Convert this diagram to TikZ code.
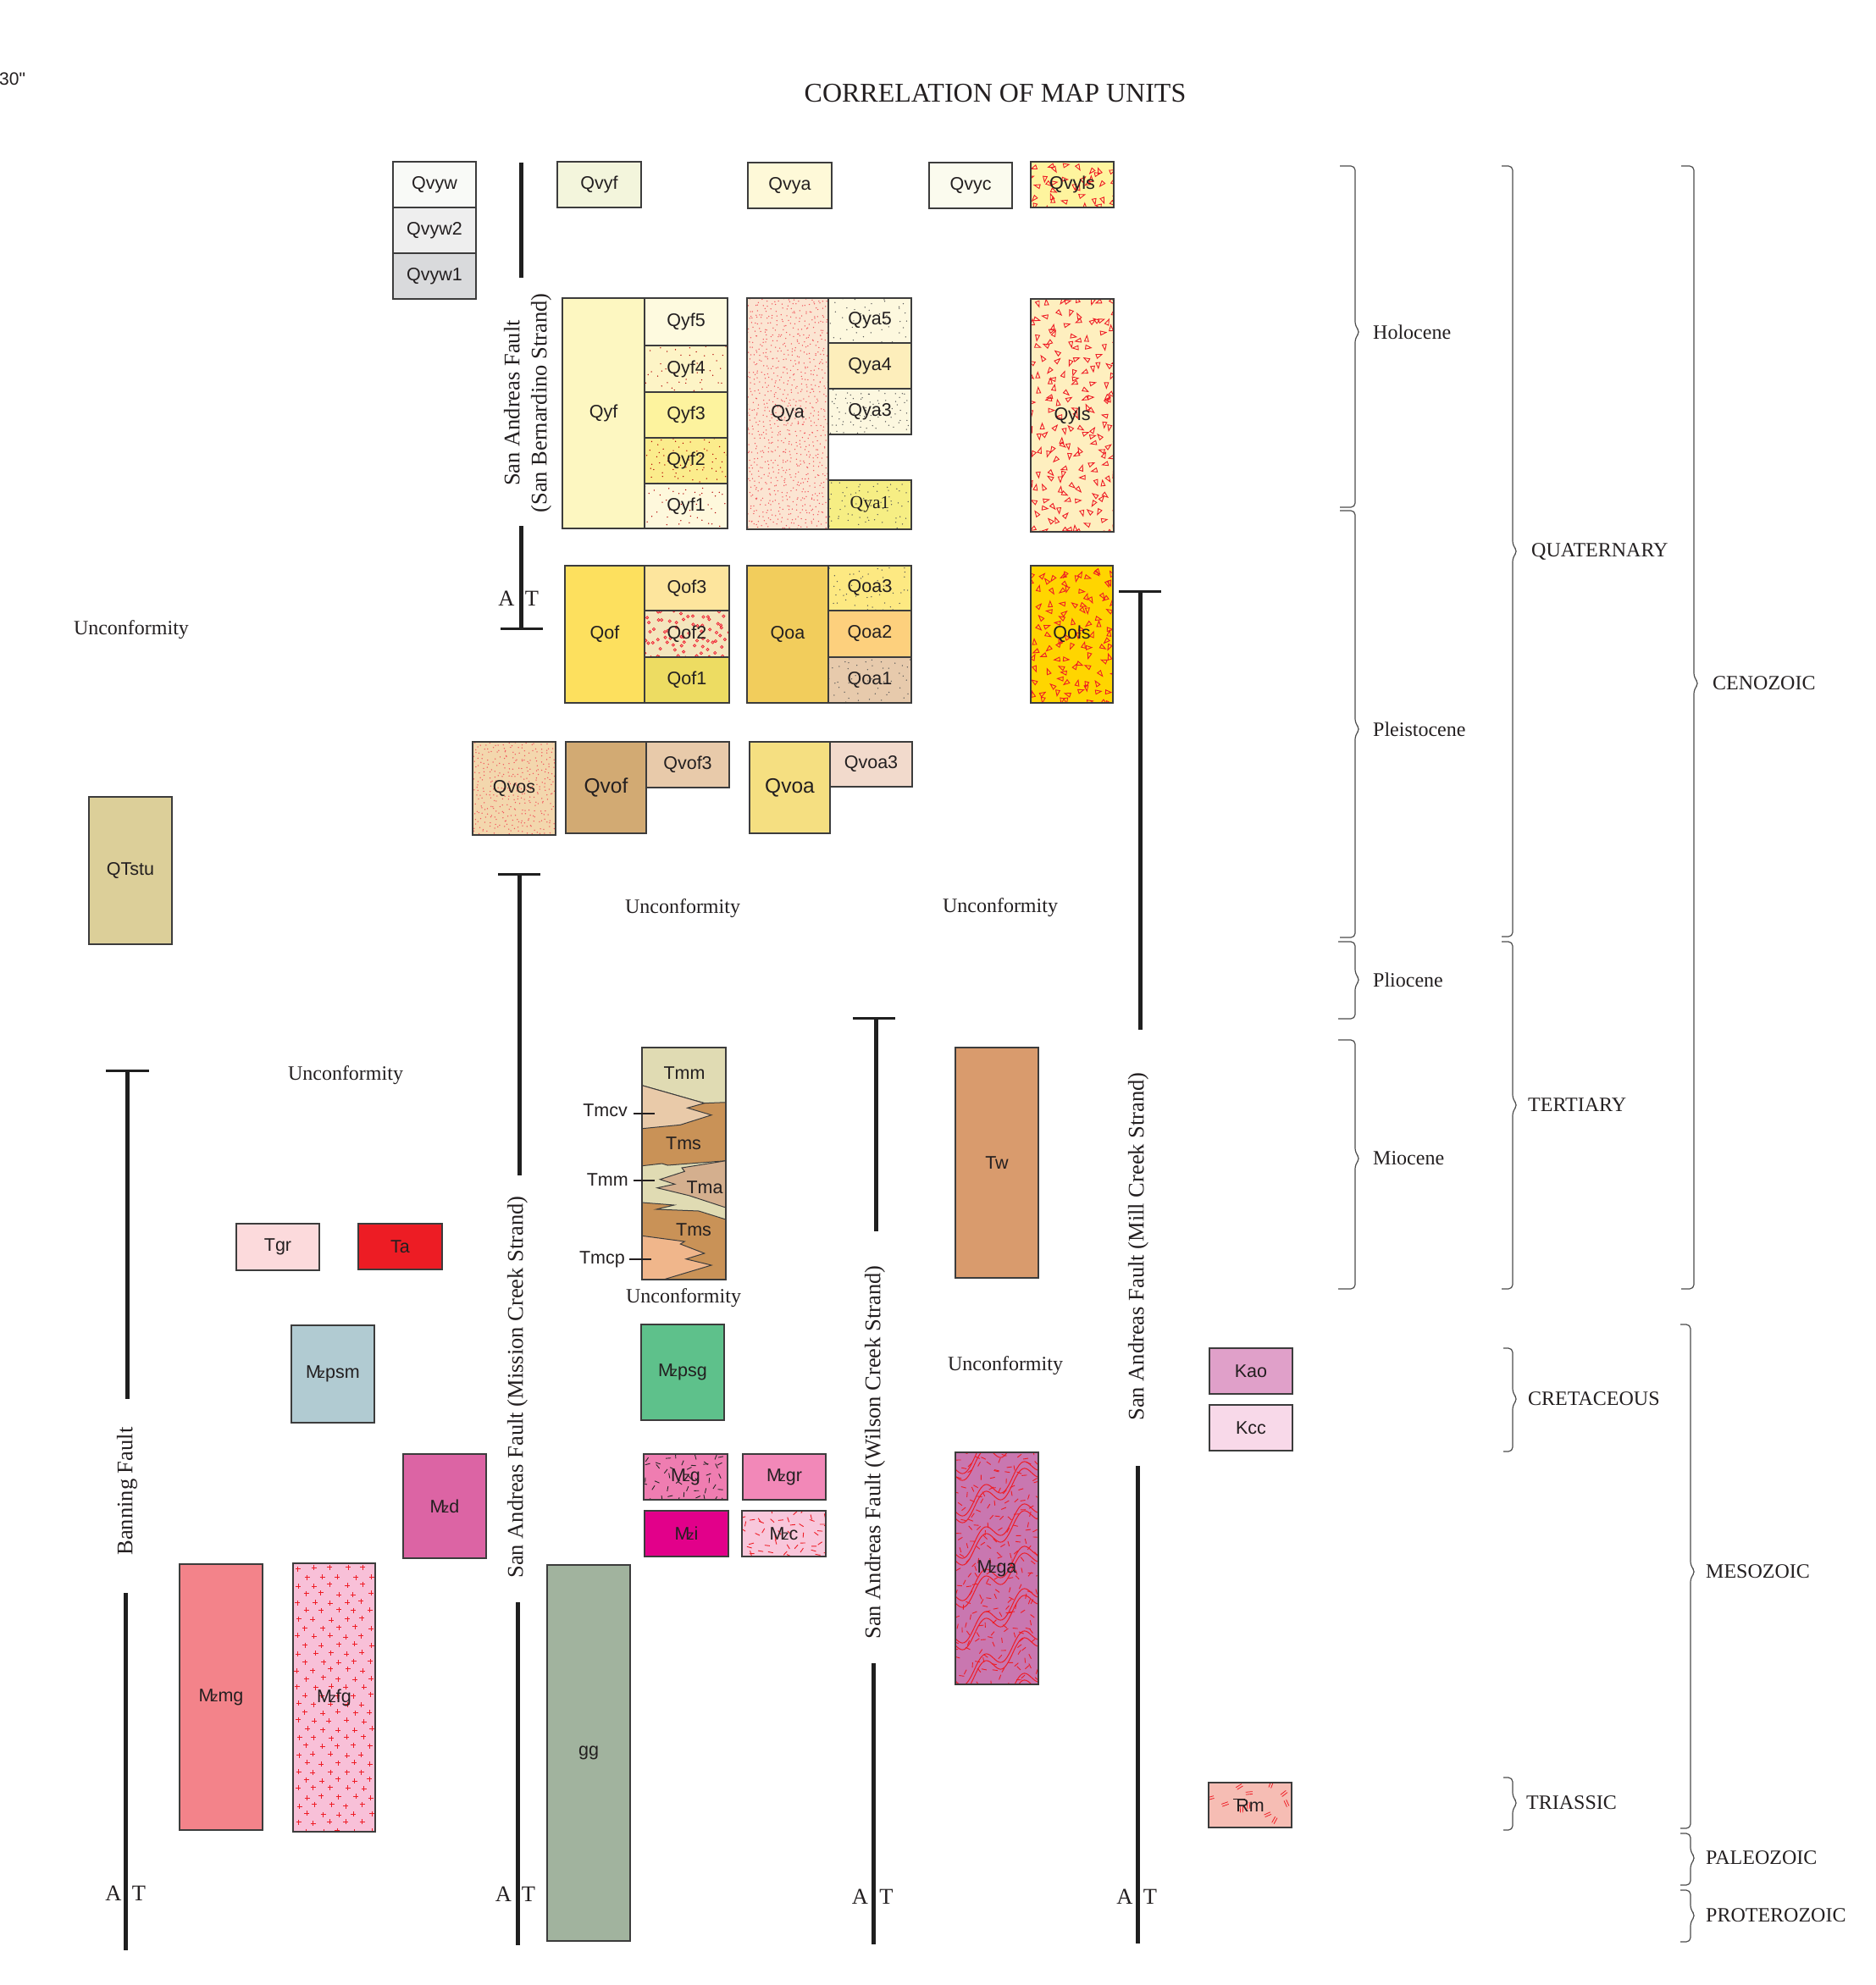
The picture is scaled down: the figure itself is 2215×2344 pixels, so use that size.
\documentclass[tikz,border=0pt]{standalone}
\usepackage{fontspec}
\setmainfont{Liberation Serif}
\newfontfamily\boxfont{Liberation Sans}
\definecolor{txt}{HTML}{231F20}
\definecolor{bline}{HTML}{3C3C3C}
\definecolor{cRed}{HTML}{EE1C25}
\definecolor{cQvyw}{HTML}{F9FAF7}
\definecolor{cQvywb}{HTML}{EEEEEE}
\definecolor{cQvywa}{HTML}{D9DADC}
\definecolor{cQvyf}{HTML}{F3F5DC}
\definecolor{cQvya}{HTML}{FEF9D8}
\definecolor{cQvyc}{HTML}{FBFBEE}
\definecolor{cQvyls}{HTML}{FEF49E}
\definecolor{cQyf}{HTML}{FDF7C1}
\definecolor{cQyf5}{HTML}{FEFADF}
\definecolor{cQyf4}{HTML}{FDF4C6}
\definecolor{cQyf3}{HTML}{FDF39E}
\definecolor{cQyf2}{HTML}{FBEC8C}
\definecolor{cQyf1}{HTML}{FEF8DC}
\definecolor{cQya}{HTML}{FBE5D2}
\definecolor{cQya5}{HTML}{FDF8DE}
\definecolor{cQya4}{HTML}{FDEEBB}
\definecolor{cQya3}{HTML}{FCF7DF}
\definecolor{cQya1}{HTML}{F6EE84}
\definecolor{cQyls}{HTML}{FEEFBF}
\definecolor{cQof}{HTML}{FDE05E}
\definecolor{cQof3}{HTML}{FDE59D}
\definecolor{cQof2}{HTML}{F4E5BD}
\definecolor{cQof1}{HTML}{EDDC62}
\definecolor{cQoa}{HTML}{F2CD5C}
\definecolor{cQoa3}{HTML}{FDE982}
\definecolor{cQoa2}{HTML}{FDD07D}
\definecolor{cQoa1}{HTML}{E7CAAC}
\definecolor{cQols}{HTML}{FFD500}
\definecolor{cQvos}{HTML}{F3D7AD}
\definecolor{cQvof}{HTML}{D2AA73}
\definecolor{cQvof3}{HTML}{E8CAAA}
\definecolor{cQvoa}{HTML}{F5DF81}
\definecolor{cQvoa3}{HTML}{F2DACC}
\definecolor{cQTstu}{HTML}{DCCF99}
\definecolor{cTmm}{HTML}{E0DBB3}
\definecolor{cTmcv}{HTML}{E9CAA9}
\definecolor{cTms}{HTML}{C99257}
\definecolor{cTma}{HTML}{D4AF8E}
\definecolor{cTmcp}{HTML}{F0B68B}
\definecolor{cTw}{HTML}{D99B6D}
\definecolor{cTgr}{HTML}{FCDADC}
\definecolor{cTa}{HTML}{ED1C24}
\definecolor{cMzpsm}{HTML}{B1CBD2}
\definecolor{cMzpsg}{HTML}{5EC18B}
\definecolor{cMzd}{HTML}{DC64A4}
\definecolor{cMzg}{HTML}{EF7DB1}
\definecolor{cMzgr}{HTML}{F288B8}
\definecolor{cMzi}{HTML}{E2008A}
\definecolor{cMzc}{HTML}{F8C7DB}
\definecolor{cMzmg}{HTML}{F3838A}
\definecolor{cMzfg}{HTML}{F8C0D8}
\definecolor{cgg}{HTML}{A1B39E}
\definecolor{cMzga}{HTML}{C977B0}
\definecolor{cKao}{HTML}{E0A0C9}
\definecolor{cKcc}{HTML}{F8D9E9}
\definecolor{cTrm}{HTML}{F6BDB4}

\newcommand\Mz{M\kern-0.14em{\fontsize{16}{16}\selectfont z}}
\newcommand\TRm{\makebox[0pt][l]{\kern-0.14em\rule[0.64em]{0.62em}{0.075em}}Rm}

\tikzset{
  ubox/.style={draw=bline, line width=1.3pt, inner sep=0pt, outer sep=0pt, text=txt,
    font=\boxfont\fontsize{21.5}{24}\selectfont},
  ulabel/.style={inner sep=0pt, text=txt, font=\boxfont\fontsize{21.5}{24}\selectfont},
  bl/.style={draw=bline, line width=1.3pt},
  tmline/.style={draw=bline, line width=1pt},
  tri/.style={draw=cRed, line width=0.9pt},
  dotr/.style={fill=red!70!black},
  dotp/.style={fill=cRed!75},
  dotg/.style={fill=black!65},
  plusl/.style={draw=cRed, line width=0.9pt},
  dashk/.style={draw=black!85, line width=0.9pt},
  dashr/.style={draw=cRed, line width=0.9pt},
  ddl/.style={draw=cRed, line width=0.8pt},
  wavel/.style={draw=cRed, line width=1pt},
  fault/.style={draw=black!88, line width=5pt},
  tbar/.style={draw=black!88, line width=3pt},
  ser/.style={inner sep=0pt, text=txt, font=\fontsize{24}{28}\selectfont},
  atl/.style={inner sep=0pt, text=txt, font=\fontsize{26.5}{30}\selectfont},
  faultlab/.style={rotate=90, inner sep=0pt, text=txt, align=center,
    font=\fontsize{26.5}{32}\selectfont},
  gbrace/.style={draw=black!70, line width=1.2pt, rounded corners=5pt},
  leader/.style={draw=txt, line width=1.2pt}
}

% random jittered grid: x1 y1 x2 y2 spacing code
\newcommand\jitgrid[6]{%
  \pgfmathtruncatemacro\jgnx{((#3)-(#1))/(#5)}%
  \pgfmathtruncatemacro\jgny{((#4)-(#2))/(#5)}%
  \foreach \ji in {0,...,\jgnx}{\foreach \jj in {0,...,\jgny}{%
    \pgfmathsetmacro\px{(#1)+(\ji+rnd)*(#5)}%
    \pgfmathsetmacro\py{(#2)+(\jj+rnd)*(#5)}%
    \pgfmathsetmacro\pa{360*rnd}%
    #6}}}
\newcommand\tripat[4]{\jitgrid{#1}{#2}{#3}{#4}{13}{\draw[tri,shift={(\px,\py)},rotate=\pa] (0,-3.6) -- (-2.4,3) -- (2.4,3) -- cycle;}}
\newcommand\dotpat[6]{\jitgrid{#1}{#2}{#3}{#4}{#5}{\fill[#6] (\px,\py) circle (0.75);}}
\newcommand\circpat[4]{\jitgrid{#1}{#2}{#3}{#4}{9}{\filldraw[draw=cRed,fill=cRed!45,line width=0.6pt] (\px,\py) circle (1.7);}}
% staggered plus signs: x1 y1 x2 y2
\newcommand\pluspat[4]{%
  \pgfmathtruncatemacro\jgnx{((#3)-(#1))/19}%
  \pgfmathtruncatemacro\jgny{((#4)-(#2))/10}%
  \foreach \ji in {0,...,\jgnx}{\foreach \jj in {0,...,\jgny}{%
    \pgfmathsetmacro\px{(#1)+6+\ji*19+mod(\jj,2)*9.5+4*(rnd-0.5)}%
    \pgfmathsetmacro\py{(#2)+6+\jj*10+3*(rnd-0.5)}%
    \draw[plusl] (\px-3,\py) -- (\px+3,\py) (\px,\py-3) -- (\px,\py+3);}}}
\newcommand\dashpat[5]{\jitgrid{#1}{#2}{#3}{#4}{11}{\draw[#5] (\px,\py) ++(\pa:3) -- ++(\pa+180:6);}}
\newcommand\ddashpat[4]{\jitgrid{#1}{#2}{#3}{#4}{20}{\draw[ddl,shift={(\px,\py)},rotate=\pa] (-4,-1.4) -- (4,-1.4) (-4,1.4) -- (4,1.4);}}
\newcommand\wavepat{%
  \foreach \wb in {-30,20,...,380}{\foreach \wk in {0,8}{%
    \draw[wavel] plot[domain=0:100, samples=50, smooth, variable=\t]
      ({1128+\t},{1715+\wb+\wk-0.6*\t+11*sin(8*\t)});}}}

% plain unit box: name x1 y1 x2 y2 fill text
\newcommand\unitbox[7]{\node[ubox,fill=#6,minimum width={(#4)-(#2)},minimum height={(#5)-(#3)}]
  (#1) at ({((#2)+(#4))/2},{((#3)+(#5))/2}) {#7};}
% patterned unit box: name x1 y1 x2 y2 fill pattern text
\newcommand\patbox[8]{\node[ubox,fill=#6,minimum width={(#4)-(#2)},minimum height={(#5)-(#3)}]
  (#1) at ({((#2)+(#4))/2},{((#3)+(#5))/2}) {};
  \begin{scope}\clip (#2,#3) rectangle (#4,#5); #7\end{scope}
  \draw[bl] (#1.north west) rectangle (#1.south east);
  \node[ulabel] (#1-t) at (#1.center) {#8};}
% brace: name x0 x1 ytop ybot ytip labelx text
\newcommand\gbr[8]{\draw[gbrace] (#2,#4) -- (#3,#4) -- (#3,{#6-7}) -- ({#3+6},#6) -- (#3,{#6+7}) -- (#3,#5) -- (#2,#5);
  \node[ser,anchor=west] (#1) at (#7,#6) {#8};}

\begin{document}
\begin{tikzpicture}[x=1pt,y=-1pt]
\useasboundingbox (0,0) rectangle (2215,2344);
\pgfmathsetseed{4242}

\node[anchor=west,inner sep=0pt,text=txt,font=\boxfont\fontsize{21}{24}\selectfont] (corner) at (-1,93) {30"};
\node[inner sep=0pt,text=txt,font=\fontsize{32}{38}\selectfont] (title) at (1175,110) {CORRELATION OF MAP UNITS};

% ---- Quaternary units
\unitbox{qvyw}{464}{191}{562}{245}{cQvyw}{Qvyw}
\unitbox{qvywb}{464}{245}{562}{299}{cQvywb}{Qvyw2}
\unitbox{qvywa}{464}{299}{562}{353}{cQvywa}{Qvyw1}
\unitbox{qvyf}{658}{191}{757}{245}{cQvyf}{Qvyf}
\unitbox{qvya}{883}{192}{982}{246}{cQvya}{Qvya}
\unitbox{qvyc}{1097}{192}{1195}{246}{cQvyc}{Qvyc}
\patbox{qvyls}{1217}{191}{1315}{245}{cQvyls}{\tripat{1217}{191}{1315}{245}}{Qvyls}

\unitbox{qyf}{664}{352}{761}{624}{cQyf}{Qyf}
\unitbox{qyf5}{761}{352}{859}{408}{cQyf5}{Qyf5}
\patbox{qyf4}{761}{408}{859}{463}{cQyf4}{\dotpat{761}{408}{859}{463}{11}{dotr}}{Qyf4}
\unitbox{qyf3}{761}{463}{859}{517}{cQyf3}{Qyf3}
\patbox{qyf2}{761}{517}{859}{571}{cQyf2}{\dotpat{761}{517}{859}{571}{9}{dotr}}{Qyf2}
\patbox{qyf1}{761}{571}{859}{624}{cQyf1}{\dotpat{761}{571}{859}{624}{11}{dotr}}{Qyf1}

\patbox{qya}{882}{352}{978}{625}{cQya}{\dotpat{882}{352}{978}{625}{5.5}{dotp}}{Qya}
\patbox{qya5}{978}{352}{1076}{405}{cQya5}{\dotpat{978}{352}{1076}{405}{11}{dotg}}{Qya5}
\unitbox{qya4}{978}{405}{1076}{459}{cQya4}{Qya4}
\patbox{qya3}{978}{459}{1076}{513}{cQya3}{\dotpat{978}{459}{1076}{513}{8}{dotg}}{Qya3}
\patbox{qya1}{978}{567}{1076}{625}{cQya1}{\dotpat{978}{567}{1076}{625}{9}{dotg}}{\rmfamily Qya1}

\patbox{qyls}{1217}{353}{1315}{628}{cQyls}{\tripat{1217}{353}{1315}{628}}{Qyls}

\unitbox{qof}{667}{668}{761}{830}{cQof}{Qof}
\unitbox{qof3}{761}{668}{861}{721}{cQof3}{Qof3}
\patbox{qof2}{761}{721}{861}{776}{cQof2}{\circpat{761}{721}{861}{776}}{Qof2}
\unitbox{qof1}{761}{776}{861}{830}{cQof1}{Qof1}
\unitbox{qoa}{882}{668}{978}{830}{cQoa}{Qoa}
\patbox{qoa3}{978}{668}{1076}{721}{cQoa3}{\dotpat{978}{668}{1076}{721}{10}{dotg}}{Qoa3}
\unitbox{qoa2}{978}{721}{1076}{776}{cQoa2}{Qoa2}
\patbox{qoa1}{978}{776}{1076}{830}{cQoa1}{\dotpat{978}{776}{1076}{830}{10}{dotg}}{Qoa1}
\patbox{qols}{1217}{668}{1314}{830}{cQols}{\tripat{1217}{668}{1314}{830}}{Qols}

\patbox{qvos}{558}{876}{656}{986}{cQvos}{\dotpat{558}{876}{656}{986}{5.5}{dotp}}{Qvos}
\unitbox{qvof}{668}{876}{763}{984}{cQvof}{\fontsize{24.5}{28}\selectfont Qvof}
\unitbox{qvof3}{763}{876}{861}{930}{cQvof3}{Qvof3}
\unitbox{qvoa}{885}{876}{980}{984}{cQvoa}{\fontsize{24.5}{28}\selectfont Qvoa}
\unitbox{qvoa3}{980}{876}{1077}{929}{cQvoa3}{Qvoa3}
\unitbox{qtstu}{105}{941}{203}{1115}{cQTstu}{QTstu}

% ---- Tertiary column
\node[ubox,fill=cTms,minimum width=99,minimum height=274] (tmcol) at (807.5,1374) {};
\begin{scope}
\clip (758,1237) rectangle (857,1511);
\filldraw[tmline,fill=cTmm] (758,1237) -- (857,1237) -- (857,1301.7) -- (831.7,1302.7) -- (758,1281.7) -- cycle;
\filldraw[tmline,fill=cTmcv] (758,1281.7) -- (831.7,1302.7) -- (811.7,1308.3) -- (840,1316.7) -- (803.3,1328.3) -- (758,1332.7) -- cycle;
\filldraw[tmline,fill=cTmm] (758,1376.7) -- (781.7,1374) -- (788.3,1376) -- (857,1370.7) -- (857,1440) -- (825,1430) -- (775,1428) -- (796,1423) -- (758,1420) -- cycle;
\filldraw[tmline,fill=cTma] (857,1370.7) -- (805,1379) -- (808.3,1383.3) -- (779.3,1392.7) -- (796.7,1398.3) -- (776,1402.7) -- (813.3,1411.7) -- (857,1426) -- cycle;
\filldraw[tmline,fill=cTmcp] (758,1459.3) -- (808.3,1466) -- (803.3,1469) -- (831.7,1480) -- (810,1486.7) -- (840,1494) -- (783.3,1511) -- (758,1511) -- cycle;
\end{scope}
\draw[bl] (tmcol.north west) rectangle (tmcol.south east);
\node[ulabel] (tmma) at (808,1267) {Tmm};
\node[ulabel] (tmsa) at (807,1350) {Tms};
\node[ulabel] (tma) at (832,1402) {Tma};
\node[ulabel] (tmsb) at (819,1452) {Tms};
\node[ulabel,anchor=east] (tmcv) at (741,1311) {Tmcv};
\node[ulabel,anchor=east] (tmmb) at (742,1393) {Tmm};
\node[ulabel,anchor=east] (tmcp) at (738,1487) {Tmcp};
\coordinate (tmcvs) at (748,1315); \coordinate (tmcve) at (773,1315);
\coordinate (tmmbs) at (748,1394); \coordinate (tmmbe) at (773,1394);
\coordinate (tmcps) at (743,1487); \coordinate (tmcpe) at (769,1487);
\draw[leader] (tmcvs) -- (tmcve);
\draw[leader] (tmmbs) -- (tmmbe);
\draw[leader] (tmcps) -- (tmcpe);

\unitbox{tw}{1128}{1237}{1226}{1509}{cTw}{Tw}
\unitbox{tgr}{279}{1445}{377}{1500}{cTgr}{Tgr}
\unitbox{ta}{423}{1445}{522}{1499}{cTa}{Ta}

% ---- Mesozoic units
\unitbox{mzpsm}{344}{1565}{442}{1680}{cMzpsm}{\Mz psm}
\unitbox{mzpsg}{757}{1564}{855}{1677}{cMzpsg}{\Mz psg}
\unitbox{kao}{1428}{1592}{1526}{1646}{cKao}{Kao}
\unitbox{kcc}{1428}{1659}{1526}{1713}{cKcc}{Kcc}
\unitbox{mzd}{476}{1717}{574}{1840}{cMzd}{\Mz d}
\patbox{mzg}{760}{1717}{859}{1771}{cMzg}{\dashpat{760}{1717}{859}{1771}{dashk}}{\Mz g}
\unitbox{mzgr}{877}{1717}{975}{1771}{cMzgr}{\Mz gr}
\unitbox{mzi}{761}{1784}{860}{1838}{cMzi}{\Mz i}
\patbox{mzc}{876}{1784}{975}{1838}{cMzc}{\dashpat{876}{1784}{975}{1838}{dashr}}{\Mz c}
\patbox{mzga}{1128}{1715}{1226}{1989}{cMzga}{\dashpat{1128}{1715}{1226}{1989}{dashr}\wavepat}{\Mz ga}
\unitbox{mzmg}{212}{1847}{310}{2161}{cMzmg}{\Mz mg}
\patbox{mzfg}{346}{1846}{443}{2163}{cMzfg}{\pluspat{346}{1846}{443}{2163}}{\Mz fg}
\unitbox{gg}{646}{1848}{744}{2292}{cgg}{gg}
\patbox{trm}{1427}{2105}{1525}{2158}{cTrm}{\ddashpat{1427}{2105}{1525}{2158}}{\TRm}

% ---- Unconformities
\node[ser] (unca) at (155,744) {Unconformity};
\node[ser] (uncb) at (408,1270) {Unconformity};
\node[ser] (uncc) at (806,1073) {Unconformity};
\node[ser] (uncd) at (1181,1072) {Unconformity};
\node[ser] (unce) at (807,1533) {Unconformity};
\node[ser] (uncf) at (1187,1613) {Unconformity};

% ---- Faults
\draw[fault] (615,192) -- (615,328);
\draw[fault] (615,621) -- (615,742);
\draw[tbar] (591,742) -- (641,742);
\node[faultlab] (sbl) at (623,476) {San Andreas Fault\\(San Bernardino Strand)};
\node[atl] (sba) at (598,707) {A};
\node[atl] (sbt) at (628,707) {T};

\draw[tbar] (588,1032) -- (638,1032);
\draw[fault] (613,1032) -- (613,1388);
\draw[fault] (611,1892) -- (611,2297);
\node[faultlab] (mcl) at (611,1638) {San Andreas Fault (Mission Creek Strand)};
\node[atl] (mca) at (594.5,2237) {A};
\node[atl] (mct) at (624,2237) {T};

\draw[tbar] (125,1264.5) -- (176,1264.5);
\draw[fault] (150,1264.5) -- (150,1652);
\draw[fault] (148,1881) -- (148,2303);
\node[faultlab] (bfl) at (150,1761) {Banning Fault};
\node[atl] (bfa) at (134,2236) {A};
\node[atl] (bft) at (164,2236) {T};

\draw[tbar] (1007,1202) -- (1057,1202);
\draw[fault] (1034.5,1202) -- (1034.5,1454);
\draw[fault] (1031,1964) -- (1031,2296);
\node[faultlab] (wcl) at (1033,1715) {San Andreas Fault (Wilson Creek Strand)};
\node[atl] (wca) at (1015.5,2240) {A};
\node[atl] (wct) at (1046.5,2240) {T};

\draw[tbar] (1321,698) -- (1371,698);
\draw[fault] (1346,698) -- (1346,1216);
\draw[fault] (1343.5,1731) -- (1343.5,2295);
\node[faultlab] (mil) at (1344,1472) {San Andreas Fault (Mill Creek Strand)};
\node[atl] (mia) at (1328,2240) {A};
\node[atl] (mit) at (1358,2240) {T};

% ---- Time braces
\gbr{holo}{1582}{1600}{196}{599}{392}{1621}{Holocene}
\gbr{pleis}{1582}{1600}{603}{1107}{861}{1621}{Pleistocene}
\gbr{plio}{1580}{1600}{1112}{1203}{1157}{1621}{Pliocene}
\gbr{mio}{1580}{1600}{1228}{1522}{1368}{1621}{Miocene}
\gbr{quat}{1773}{1786}{196}{1106}{651}{1808}{QUATERNARY}
\gbr{tert}{1773}{1786}{1112}{1522}{1305}{1804}{TERTIARY}
\gbr{cret}{1775}{1786}{1592}{1714}{1652}{1804}{CRETACEOUS}
\gbr{tria}{1775}{1786}{2099}{2161}{2129}{1802}{TRIASSIC}
\gbr{ceno}{1985}{2000}{196}{1522}{807}{2022}{CENOZOIC}
\gbr{meso}{1984}{1996}{1564}{2159}{1856}{2014}{MESOZOIC}
\gbr{paleo}{1984}{1996}{2165}{2226}{2194}{2014}{PALEOZOIC}
\gbr{prot}{1984}{1996}{2232}{2293}{2262}{2014}{PROTEROZOIC}
\end{tikzpicture}
\end{document}
